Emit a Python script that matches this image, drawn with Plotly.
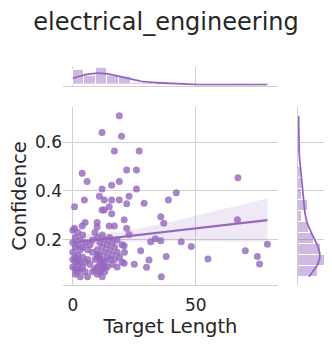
import numpy as np
import plotly.graph_objects as go

TITULO = "electrical_engineering"
COLOR = "#9467bd"

# puntos (fuera del nucleo denso)
x_sueltos = [18.9, 11.9, 19.8, 16.9, 27.0, 21.9, 25.9, 3.8, 5.8, 18.9, 15.8, 11.9, 25.9, 67.2, 42.1,
             38.9, 22.9, 10.8, 12.8, 15.8, 18.9, 21.9, 29.0, 4.7, 0.7, 14.8, 11.9, 12.8, 15.8, 20.9,
             35.8, 37.0, 67.0, 5.0, 3.8, 9.9, 9.9, 14.8, 16.9, 21.9, 0.7, 22.9, 31.7, 35.8, 33.6,
             44.1, 48.2, 79.2, 70.2, 75.1, 76.0, 55.0, 38.0, 31.0, 30.0, 27.6, 25.0, 20.9, 20.9, 36.0]
y_sueltos = [0.707, 0.639, 0.624, 0.563, 0.563, 0.486, 0.486, 0.472, 0.439, 0.439, 0.423, 0.408, 0.408, 0.454, 0.393,
             0.363, 0.378, 0.378, 0.363, 0.363, 0.363, 0.348, 0.350, 0.363, 0.336, 0.336, 0.322, 0.322, 0.307, 0.282,
             0.295, 0.268, 0.282, 0.271, 0.257, 0.271, 0.253, 0.257, 0.257, 0.248, 0.248, 0.222, 0.193, 0.197, 0.205,
             0.193, 0.173, 0.182, 0.156, 0.132, 0.102, 0.122, 0.132, 0.118, 0.088, 0.156, 0.101, 0.105, 0.176, 0.050]

# nucleo denso (x 0-21, y 0.05-0.25), estimado
x_nucleo = [0, 0, 0, 0, 0, 1, 1, 1, 1, 1, 2, 2, 2, 2, 2, 3, 3, 3, 3, 3,
            4, 4, 4, 4, 5, 5, 5, 6, 6, 6, 7, 7, 8, 8, 8, 9, 9, 9, 10, 10,
            10, 10, 10, 11, 11, 11, 11, 12, 12, 12, 12, 12, 13, 13, 13, 13, 14, 14, 14, 15,
            15, 15, 16, 16, 16, 17, 17, 18, 18, 18, 19, 20, 20, 21, 11, 12, 1, 2, 13, 10]
y_nucleo = [0.24, 0.19, 0.15, 0.12, 0.09, 0.21, 0.17, 0.13, 0.08, 0.06, 0.23, 0.18, 0.14, 0.10, 0.07, 0.20, 0.16, 0.11, 0.08, 0.05,
            0.22, 0.17, 0.13, 0.09, 0.19, 0.11, 0.07, 0.16, 0.12, 0.05, 0.18, 0.10, 0.20, 0.15, 0.07, 0.23, 0.12, 0.08, 0.21, 0.16,
            0.13, 0.09, 0.06, 0.19, 0.14, 0.10, 0.07, 0.22, 0.17, 0.12, 0.08, 0.05, 0.20, 0.15, 0.11, 0.07, 0.18, 0.13, 0.09, 0.21,
            0.16, 0.12, 0.19, 0.14, 0.10, 0.17, 0.12, 0.20, 0.15, 0.09, 0.13, 0.18, 0.11, 0.15, 0.12, 0.10, 0.11, 0.12, 0.09, 0.14]

x = np.array(x_sueltos + x_nucleo, dtype=float)
y = np.array(y_sueltos + y_nucleo, dtype=float)
n = len(x)

# regresion lineal + IC 95%
b1, b0 = np.polyfit(x, y, 1)
xg = np.linspace(x.min(), x.max(), 100)
yg = b0 + b1 * xg
res = y - (b0 + b1 * x)
s = np.sqrt(np.sum(res ** 2) / (n - 2))
se = s * np.sqrt(1 / n + (xg - x.mean()) ** 2 / np.sum((x - x.mean()) ** 2))
sup = yg + 1.977 * se
inf = yg - 1.977 * se


def kde(v, paso):
    bw = v.std(ddof=1) * len(v) ** (-1 / 5)
    g = np.linspace(v.min(), v.max(), 200)
    d = np.exp(-0.5 * ((g[:, None] - v[None, :]) / bw) ** 2).sum(axis=1) / (len(v) * bw * np.sqrt(2 * np.pi))
    return g, d * len(v) * paso


paso_x = 4.7
paso_y = 0.045
kx, kdx = kde(x, paso_x)
ky, kdy = kde(y, paso_y)
cuenta_y, _ = np.histogram(y, bins=np.arange(y.min(), y.max() + paso_y, paso_y))

fig = go.Figure()

fig.add_trace(go.Scatter(x=x, y=y, mode="markers",
                         marker=dict(color=COLOR, size=7, opacity=0.8),
                         xaxis="x", yaxis="y", showlegend=False))
fig.add_trace(go.Scatter(x=np.concatenate([xg, xg[::-1]]), y=np.concatenate([sup, inf[::-1]]),
                         fill="toself", fillcolor="rgba(148,103,189,0.15)", line=dict(width=0),
                         mode="lines", xaxis="x", yaxis="y", showlegend=False, hoverinfo="skip"))
fig.add_trace(go.Scatter(x=xg, y=yg, mode="lines", line=dict(color=COLOR, width=2.2),
                         xaxis="x", yaxis="y", showlegend=False))

# marginal superior
fig.add_trace(go.Histogram(x=x, xbins=dict(start=x.min(), end=x.max() + 0.01, size=paso_x),
                           marker=dict(color="rgba(148,103,189,0.45)", line=dict(color="white", width=1)),
                           xaxis="x2", yaxis="y2", showlegend=False))
fig.add_trace(go.Scatter(x=kx, y=kdx, mode="lines", line=dict(color=COLOR, width=1.8),
                         xaxis="x2", yaxis="y2", showlegend=False))

# marginal derecha
fig.add_trace(go.Histogram(y=y, ybins=dict(start=y.min(), end=y.max() + 0.001, size=paso_y),
                           marker=dict(color="rgba(148,103,189,0.45)", line=dict(color="white", width=1)),
                           xaxis="x3", yaxis="y3", showlegend=False))
fig.add_trace(go.Scatter(x=kdy, y=ky, mode="lines", line=dict(color=COLOR, width=1.8),
                         xaxis="x3", yaxis="y3", showlegend=False))

# la pagina tiene 8px de margen en body
OFF = 8
W = 332 - OFF
H = 346 - OFF


def px_x(p):
    return (p - OFF) / W


def px_y(p):
    return 1 - (p - OFF) / H


gris = "#d0d0d0"
texto = "#262626"
fuente = "DejaVu Sans"
rx = [-4, 83.5]
ry = [0.016, 0.743]

fig.update_layout(
    width=W, height=H, margin=dict(l=0, r=0, t=0, b=0),
    plot_bgcolor="white", paper_bgcolor="white",
    font=dict(family=fuente, color=texto),
    title=dict(text=TITULO, x=px_x(166), xanchor="center", y=px_y(22), yanchor="middle",
               font=dict(size=24, color=texto)),
    bargap=0,
    xaxis=dict(domain=[px_x(63), px_x(278)], range=rx, tickvals=[0, 50], showgrid=True, gridcolor=gris,
               zeroline=False, showline=True, linecolor=gris, tickfont=dict(size=17), automargin=False,
               ticklabelstandoff=5,
               title=dict(text="Target Length", font=dict(size=19.5), standoff=4), anchor="y"),
    yaxis=dict(domain=[px_y(285), px_y(107)], range=ry, tickvals=[0.2, 0.4, 0.6], showgrid=True,
               gridcolor=gris, zeroline=False, tickfont=dict(size=17), automargin=False,
               title=dict(text="Confidence", font=dict(size=19.5), standoff=10), anchor="x"),
    xaxis2=dict(domain=[px_x(63), px_x(278)], range=rx, tickvals=[0, 50], showticklabels=False,
                showgrid=True, gridcolor=gris, zeroline=False, showline=True, linecolor=gris,
                automargin=False, anchor="y2"),
    yaxis2=dict(domain=[px_y(85.7), px_y(66.7)], showticklabels=False, showgrid=False,
                zeroline=False, automargin=False, anchor="x2"),
    xaxis3=dict(domain=[px_x(298), px_x(326)], range=[0, cuenta_y.max() * 1.05], showticklabels=False,
                showgrid=False, zeroline=False, automargin=False, anchor="y3"),
    yaxis3=dict(domain=[px_y(285), px_y(107)], range=ry, tickvals=[0.2, 0.4, 0.6], showticklabels=False,
                showgrid=True, gridcolor=gris, zeroline=False, showline=True, linecolor=gris,
                automargin=False, anchor="x3"),
)

fig.write_html("out.html")
